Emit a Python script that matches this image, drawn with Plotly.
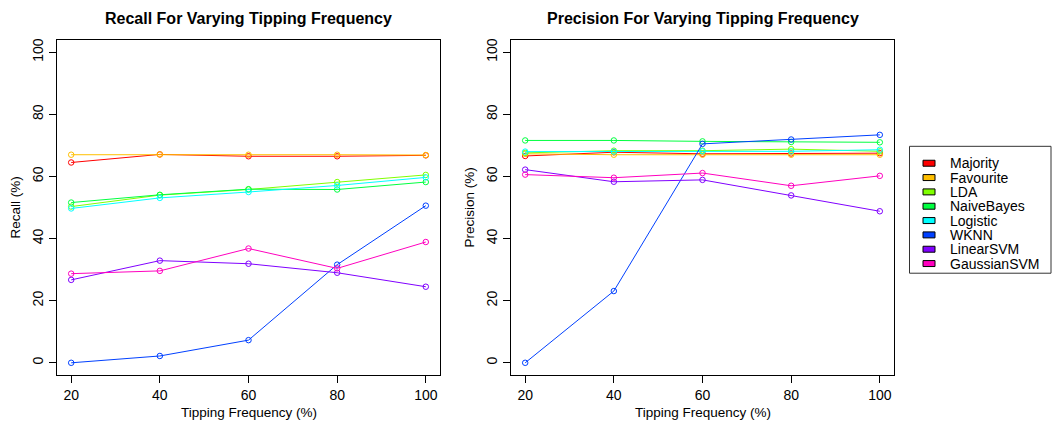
import plotly.graph_objects as go

freq = [20, 40, 60, 80, 100]
models = ["Majority", "Favourite", "LDA", "NaiveBayes", "Logistic", "WKNN", "LinearSVM", "GaussianSVM"]
colors = ["#FF0000", "#FFBF00", "#80FF00", "#00FF40", "#00FFFF", "#0040FF", "#8000FF", "#FF00BF"]

recall_majority = [64.5, 67.1, 66.5, 66.5, 66.8]
recall_favourite = [67.0, 67.1, 67.0, 67.0, 66.9]
recall_lda = [50.3, 54.0, 55.8, 58.2, 60.5]
recall_naivebayes = [51.6, 54.1, 55.9, 55.8, 58.2]
recall_logistic = [49.7, 53.1, 55.0, 57.1, 59.7]
recall_wknn = [0.0, 2.2, 7.3, 31.6, 50.6]
recall_linearsvm = [26.7, 32.9, 31.9, 29.0, 24.5]
recall_gaussiansvm = [28.7, 29.6, 36.8, 30.4, 38.9]

prec_majority = [66.6, 67.8, 67.3, 67.4, 67.5]
prec_favourite = [67.3, 67.0, 67.0, 67.0, 67.0]
prec_lda = [67.6, 68.3, 68.3, 68.8, 68.1]
prec_naivebayes = [71.6, 71.6, 71.3, 71.1, 71.0]
prec_logistic = [68.0, 68.0, 68.1, 68.1, 68.6]
prec_wknn = [0.0, 23.1, 70.5, 71.9, 73.4]
prec_linearsvm = [62.2, 58.3, 58.9, 53.9, 48.8]
prec_gaussiansvm = [60.6, 59.6, 61.1, 57.0, 60.2]

recall = [recall_majority, recall_favourite, recall_lda, recall_naivebayes,
          recall_logistic, recall_wknn, recall_linearsvm, recall_gaussiansvm]
precision = [prec_majority, prec_favourite, prec_lda, prec_naivebayes,
             prec_logistic, prec_wknn, prec_linearsvm, prec_gaussiansvm]

W, H = 1052, 423
FONT = "Liberation Sans, Arial, Helvetica, sans-serif"

def px_x(p):
    return p / W

def px_y(p):
    return 1 - p / H

fig = go.Figure()

for i, m in enumerate(models):
    for xa, ya, vals in (("x", "y", recall[i]), ("x2", "y2", precision[i])):
        fig.add_trace(go.Scatter(x=freq, y=vals, mode="lines+markers", xaxis=xa, yaxis=ya,
                                 line=dict(color=colors[i], width=1),
                                 marker=dict(symbol="circle-open", size=5.5, color=colors[i],
                                             line=dict(width=1)),
                                 showlegend=False, name=m))

ydom = [px_y(375), px_y(38)]
axis_common = dict(showline=True, mirror=True, linecolor="black", linewidth=1,
                   ticks="outside", ticklen=7, tickcolor="black", showgrid=False,
                   zeroline=False, tickfont=dict(size=14, color="black", family=FONT))

# manual legend (R style)
shapes = [dict(type="rect", xref="paper", yref="paper",
               x0=px_x(909.5), x1=px_x(1051), y0=px_y(272.5), y1=px_y(145),
               line=dict(color="#333333", width=1), fillcolor="white", layer="below")]
annotations = []
row0, dy = 162, 14.4
for i, m in enumerate(models):
    yc = row0 + i * dy
    shapes.append(dict(type="rect", xref="paper", yref="paper",
                       x0=px_x(923), x1=px_x(935), y0=px_y(yc + 3), y1=px_y(yc - 3),
                       line=dict(color="black", width=1), fillcolor=colors[i]))
    annotations.append(dict(text=m, x=px_x(948), y=px_y(yc), xref="paper", yref="paper",
                            showarrow=False, xanchor="left", yanchor="middle",
                            font=dict(size=14, family=FONT, color="black")))

annotations += [
    dict(text="<b>Recall For Varying Tipping Frequency</b>", x=px_x(248.5), y=px_y(17),
         xref="paper", yref="paper", showarrow=False, font=dict(size=16), xanchor="center", yanchor="middle"),
    dict(text="<b>Precision For Varying Tipping Frequency</b>", x=px_x(702.5), y=px_y(17),
         xref="paper", yref="paper", showarrow=False, font=dict(size=16), xanchor="center", yanchor="middle"),
    dict(text="Tipping Frequency (%)", x=px_x(248.5), y=px_y(412), xref="paper", yref="paper",
         showarrow=False, font=dict(size=13.5), xanchor="center", yanchor="middle"),
    dict(text="Tipping Frequency (%)", x=px_x(702.5), y=px_y(412), xref="paper", yref="paper",
         showarrow=False, font=dict(size=13.5), xanchor="center", yanchor="middle"),
    dict(text="Recall (%)", x=px_x(16), y=px_y(206.5), xref="paper", yref="paper", textangle=-90,
         showarrow=False, font=dict(size=13.5), xanchor="center", yanchor="middle"),
    dict(text="Precision (%)", x=px_x(470), y=px_y(206.5), xref="paper", yref="paper", textangle=-90,
         showarrow=False, font=dict(size=13.5), xanchor="center", yanchor="middle"),
]

fig.update_layout(
    width=W, height=H,
    margin=dict(l=0, r=0, t=0, b=0),
    paper_bgcolor="white", plot_bgcolor="white",
    font=dict(family=FONT, color="black", size=13.5),
    showlegend=False,
    xaxis=dict(domain=[px_x(57), px_x(440)], range=[16.8, 103.2], tickvals=freq, anchor="y", **axis_common),
    yaxis=dict(domain=ydom, range=[-4, 104], tickvals=[0, 20, 40, 60, 80, 100], tickangle=-90,
               anchor="x", **axis_common),
    xaxis2=dict(domain=[px_x(511), px_x(894)], range=[16.8, 103.2], tickvals=freq, anchor="y2", **axis_common),
    yaxis2=dict(domain=ydom, range=[-4, 104], tickvals=[0, 20, 40, 60, 80, 100], tickangle=-90,
                anchor="x2", **axis_common),
    shapes=shapes,
    annotations=annotations,
)

fig.write_html("out.html")
